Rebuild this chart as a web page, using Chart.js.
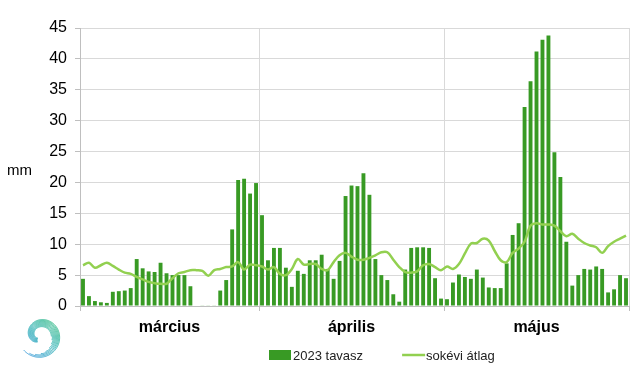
<!DOCTYPE html>
<html>
<head>
<meta charset="utf-8">
<script src="https://cdn.jsdelivr.net/npm/chart.js@4/dist/chart.umd.min.js"></script>
<style>
  html, body { margin: 0; padding: 0; background: #fff; }
  #wrap { width: 640px; height: 376px; position: relative; }
</style>
</head>
<body>
<div id="wrap"><canvas id="c" width="640" height="376"></canvas></div>
<script>
// Daily precipitation, spring 2023 vs. long-term average (mm)
const monthNames = ['március', 'április', 'május'];
const daysPerMonth = [30, 31, 31];

const rain2023 = [
  4.4, 1.6, 0.8, 0.6, 0.5, 2.3, 2.4, 2.5, 2.9, 7.6,
  6.1, 5.6, 5.5, 7.0, 5.3, 5.0, 5.0, 5.0, 3.2, 0.0,
  0.1, 0.1, 0.1, 2.5, 4.2, 12.4, 20.4, 20.6, 18.2, 19.9,
  14.7, 7.4, 9.4, 9.4, 6.2, 3.1, 5.7, 5.2, 7.4, 7.4,
  8.3, 6.0, 4.4, 7.3, 17.8, 19.5, 19.4, 21.5, 18.0, 7.6,
  5.0, 4.2, 1.9, 0.7, 5.9, 9.4, 9.5, 9.5, 9.4, 4.5,
  1.2, 1.1, 3.8, 5.1, 4.7, 4.4, 5.9, 4.6, 3.0, 2.9,
  2.9, 6.9, 11.5, 13.4, 32.2, 36.4, 41.2, 43.1, 43.8, 24.9,
  20.9, 10.4, 3.3, 5.0, 6.0, 5.9, 6.4, 6.0, 2.2, 2.7,
  5.0, 4.5
];

const longTermAvg = [
  6.6, 7.0, 6.2, 6.6, 7.0, 6.5, 5.9, 5.4, 5.2, 4.7,
  4.3, 3.9, 3.7, 3.6, 3.6, 4.5, 5.3, 5.5, 5.8, 5.8,
  5.7, 4.9, 5.8, 6.0, 6.3, 6.4, 7.1, 5.9, 6.7, 6.6,
  6.4, 5.9, 6.3, 5.2, 5.0, 6.0, 7.6, 6.7, 6.8, 6.8,
  6.0, 5.8, 7.1, 8.2, 8.6, 8.0, 7.5, 7.5, 7.8, 8.2,
  8.7, 8.7, 7.5, 6.3, 5.5, 5.4, 5.6, 6.6, 6.8, 6.3,
  5.8, 6.4, 6.0, 6.8, 8.5, 10.1, 10.2, 10.9, 10.6, 8.9,
  7.4, 7.1, 8.6, 9.3, 10.4, 13.0, 13.4, 13.2, 13.2, 13.0,
  12.1, 11.3, 11.7, 10.9, 10.2, 9.8, 9.5, 8.6, 9.7, 10.4,
  10.9, 11.4
];

const yTicks = [0, 5, 10, 15, 20, 25, 30, 35, 40, 45];

// category labels: one per day
const days = rain2023.map((_, i) => String(i + 1));

// month boundaries and month centres in day units
const monthEdges = [0];
daysPerMonth.forEach(n => monthEdges.push(monthEdges[monthEdges.length - 1] + n));
const monthMids = daysPerMonth.map((n, i) => monthEdges[i] + n / 2);
const totalDays = monthEdges[monthEdges.length - 1];

const FONT = "'Liberation Sans', Arial, sans-serif";
const GRID = '#d9d9d9';
const AXIS = '#bfbfbf';

// unit label, legend and emblem
const decorations = {
  id: 'decorations',
  afterDraw(chart) {
    const ctx = chart.ctx;
    ctx.save();
    ctx.fillStyle = '#000';
    ctx.font = `15px ${FONT}`;
    ctx.textBaseline = 'middle';
    ctx.textAlign = 'left';
    ctx.fillText('mm', 7, 171);

    // legend built from the datasets
    ctx.font = `13px ${FONT}`;
    const ly = 355;
    let lx = 269;
    chart.data.datasets.forEach(ds => {
      if (ds.type === 'bar') {
        ctx.fillStyle = ds.backgroundColor;
        ctx.fillRect(lx, ly - 5, 22, 10);
      } else {
        ctx.strokeStyle = ds.borderColor;
        ctx.lineWidth = ds.borderWidth;
        ctx.beginPath();
        ctx.moveTo(lx, ly);
        ctx.lineTo(lx + 23, ly);
        ctx.stroke();
      }
      ctx.fillStyle = '#222';
      ctx.fillText(ds.label, lx + 24, ly + 1);
      lx += 24 + ctx.measureText(ds.label).width + 39;
    });

    // spiral emblem
    const cx = 40, cy = 336;
    const grad = ctx.createLinearGradient(24, 356, 58, 316);
    grad.addColorStop(0, '#4a9fe0');
    grad.addColorStop(0.5, '#3bb5b8');
    grad.addColorStop(1, '#3cc07a');
    ctx.strokeStyle = grad;
    ctx.lineCap = 'round';
    ctx.lineWidth = 1;
    const t0 = 2.4, t1 = -4.3;
    for (let s = 0; s < 9; s++) {
      const start = t0 - s * 0.3;
      ctx.beginPath();
      let first = true;
      for (let t = start; t >= t1 + s * 0.06; t -= 0.04) {
        const k = (t0 - t) / (t0 - t1);
        const r = 21.5 - 15 * k * k - s * 1.25 * (1 - 0.5 * k);
        const x = cx + r * Math.cos(t);
        const y = cy + r * Math.sin(t);
        if (first) { ctx.moveTo(x, y); first = false; } else ctx.lineTo(x, y);
      }
      ctx.stroke();
    }
    ctx.restore();
  }
};

new Chart(document.getElementById('c'), {
  data: {
    labels: days,
    datasets: [
      {
        type: 'bar',
        label: '2023 tavasz',
        data: rain2023,
        backgroundColor: '#389a24',
        borderWidth: 0,
        barPercentage: 0.65,
        categoryPercentage: 1.0,
        order: 2
      },
      {
        type: 'line',
        label: 'sokévi átlag',
        data: longTermAvg,
        borderColor: '#92d050',
        backgroundColor: '#92d050',
        borderWidth: 2.5,
        pointRadius: 0,
        tension: 0.35,
        order: 1
      }
    ]
  },
  options: {
    responsive: false,
    animation: false,
    devicePixelRatio: 1,
    layout: { padding: { top: 28, right: 11, left: 0, bottom: 38 } },
    plugins: {
      tooltip: { enabled: false },
      legend: { display: false }
    },
    scales: {
      x: {
        type: 'category',
        display: false,
        offset: true
      },
      xEdges: {
        type: 'linear',
        position: 'bottom',
        weight: 0,
        min: 0,
        max: totalDays,
        afterBuildTicks(scale) { scale.ticks = monthEdges.map(v => ({ value: v })); },
        afterFit(scale) { scale.height = 5; },
        grid: { color: GRID, tickColor: AXIS, tickLength: 5, drawOnChartArea: true },
        border: { color: AXIS },
        ticks: { display: false }
      },
      xMonths: {
        type: 'linear',
        position: 'bottom',
        weight: 1,
        min: 0,
        max: totalDays,
        afterBuildTicks(scale) { scale.ticks = monthMids.map(v => ({ value: v })); },
        afterFit(scale) { scale.height = 27; },
        grid: { display: false, drawTicks: false },
        border: { display: false },
        ticks: {
          autoSkip: false,
          maxRotation: 0,
          padding: 7,
          color: '#000',
          font: { family: FONT, size: 16, weight: 'bold' },
          callback: (v, i) => monthNames[i]
        }
      },
      y: {
        type: 'linear',
        min: 0,
        max: 45,
        afterBuildTicks(scale) { scale.ticks = yTicks.map(v => ({ value: v })); },
        afterFit(scale) { scale.width = 80; },
        grid: { color: GRID, tickColor: AXIS, tickLength: 5 },
        border: { color: AXIS },
        ticks: {
          padding: 8,
          color: '#000',
          font: { family: FONT, size: 16 }
        }
      }
    }
  },
  plugins: [decorations]
});
</script>
</body>
</html>
